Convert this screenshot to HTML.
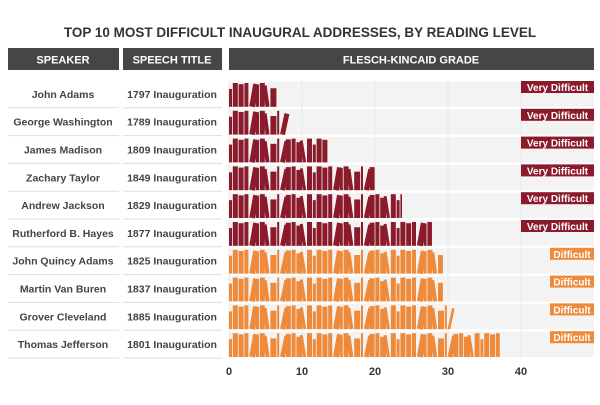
<!DOCTYPE html>
<html><head><meta charset="utf-8"><style>
body{margin:0;background:#fff;width:600px;height:400px;overflow:hidden;font-family:"Liberation Sans",sans-serif;}
svg text{font-family:"Liberation Sans",sans-serif;}
</style></head><body>
<svg id="chart" width="600" height="400" xmlns="http://www.w3.org/2000/svg">
<text x="300" y="37" text-anchor="middle" font-size="13.5" font-weight="bold" fill="#333">TOP 10 MOST DIFFICULT INAUGURAL ADDRESSES, BY READING LEVEL</text>
<rect x="8" y="48" width="111" height="22" fill="#464646"/>
<text x="63" y="63.5" text-anchor="middle" font-size="11" font-weight="bold" fill="#fff">SPEAKER</text>
<rect x="123" y="48" width="99" height="22" fill="#464646"/>
<text x="172" y="63.5" text-anchor="middle" font-size="11" font-weight="bold" fill="#fff">SPEECH TITLE</text>
<rect x="229" y="48" width="365" height="22" fill="#464646"/>
<text x="411" y="63.5" text-anchor="middle" font-size="11" font-weight="bold" fill="#fff">FLESCH-KINCAID GRADE</text>
<g id="rows"></g>
</svg>
<script>
const speakers=["John Adams","George Washington","James Madison","Zachary Taylor","Andrew Jackson","Rutherford B. Hayes","John Quincy Adams","Martin Van Buren","Grover Cleveland","Thomas Jefferson"];
const titles=["1797 Inauguration","1789 Inauguration","1809 Inauguration","1849 Inauguration","1829 Inauguration","1877 Inauguration","1825 Inauguration","1837 Inauguration","1885 Inauguration","1801 Inauguration"];
const grades=[6.6,7.9,13.7,20.0,23.7,27.8,29.3,29.3,30.3,37.1];
const levels=["Very Difficult","Very Difficult","Very Difficult","Very Difficult","Very Difficult","Very Difficult","Difficult","Difficult","Difficult","Difficult"];
const ticks=[0,10,20,30,40];

const NS="http://www.w3.org/2000/svg";
const g=document.getElementById('rows');
const x0=229,pxPer=7.3,rowTop=80,rowH=27.8,plotRight=594;
const xs=v=>x0+v*pxPer;
function el(t,a){const e=document.createElementNS(NS,t);for(const k in a)e.setAttribute(k,a[k]);g.appendChild(e);return e;}
const colorFor=l=>l==="Very Difficult"?"#8b1a2b":"#ee8a3a";
const bw=[3,5,5,4,6,3,5,4,6,2,5,5,4,6,3,5];
const bh=[0.75,1,0.95,1,0.97,0.85,1,0.9,0.78,1,0.9,0.97,1,0.85,0.93,1];
const bt=[0,0,0,0,10,0,0,-8,0,0,12,0,0,0,-9,0];
speakers.forEach((s,i)=>{
  const y=rowTop+i*rowH;
  let r=el('rect',{x:x0,y:y+1.5,width:plotRight-x0,height:rowH-2.5,fill:'#f3f3f3'});
  
  let l=el('line',{x1:8,x2:119,y1:y+rowH,y2:y+rowH,stroke:'#ddd'});
  
  let l2=el('line',{x1:123,x2:222,y1:y+rowH,y2:y+rowH,stroke:'#ddd'});
  
  let t=el('text',{x:63,y:y+rowH/2+4,'text-anchor':'middle','font-size':10.5,'font-weight':'bold',fill:'#444'});t.textContent=s;
  
  let t2=el('text',{x:172,y:y+rowH/2+4,'text-anchor':'middle','font-size':10.5,'font-weight':'bold',fill:'#444'});t2.textContent=titles[i];
  
});
ticks.forEach(v=>{
  let gl=el('line',{x1:xs(v),x2:xs(v),y1:rowTop,y2:rowTop+10*rowH,stroke:'#e8e8e8','stroke-width':1});
  
  let tt=el('text',{x:xs(v),y:375,'text-anchor':'middle','font-size':11,'font-weight':'bold',fill:'#333'});tt.textContent=v;
  
});
speakers.forEach((s,i)=>{
  const y=rowTop+i*rowH, base=y+rowH-1, full=rowH-4, c=colorFor(levels[i]);
  const end=xs(grades[i]);
  const bg=document.createElementNS(NS,'g');g.appendChild(bg);
  
  
  let x=x0,k=0;
  while(x<end-1){
    const w=Math.min(bw[k%bw.length],end-x);const h=full*bh[k%bh.length];const tilt=bt[k%bt.length];
    const b=document.createElementNS(NS,'rect');
    b.setAttribute('x',x);b.setAttribute('y',base-h);b.setAttribute('width',w);b.setAttribute('height',h);b.setAttribute('fill',c);
    if(tilt)b.setAttribute('transform',`rotate(${tilt} ${x+w/2} ${base})`);
    bg.appendChild(b);
    x+=w+0.8;k++;
  }
  const lab=levels[i];const lw=lab==="Very Difficult"?73:44;
  let br=el('rect',{x:plotRight-lw,y:y+1,width:lw,height:12,fill:c});
  
  let bt2=el('text',{x:plotRight-lw/2,y:y+11,'text-anchor':'middle','font-size':10,'font-weight':'bold',fill:'#fff'});bt2.textContent=lab;
  
});
</script>
</body></html>
